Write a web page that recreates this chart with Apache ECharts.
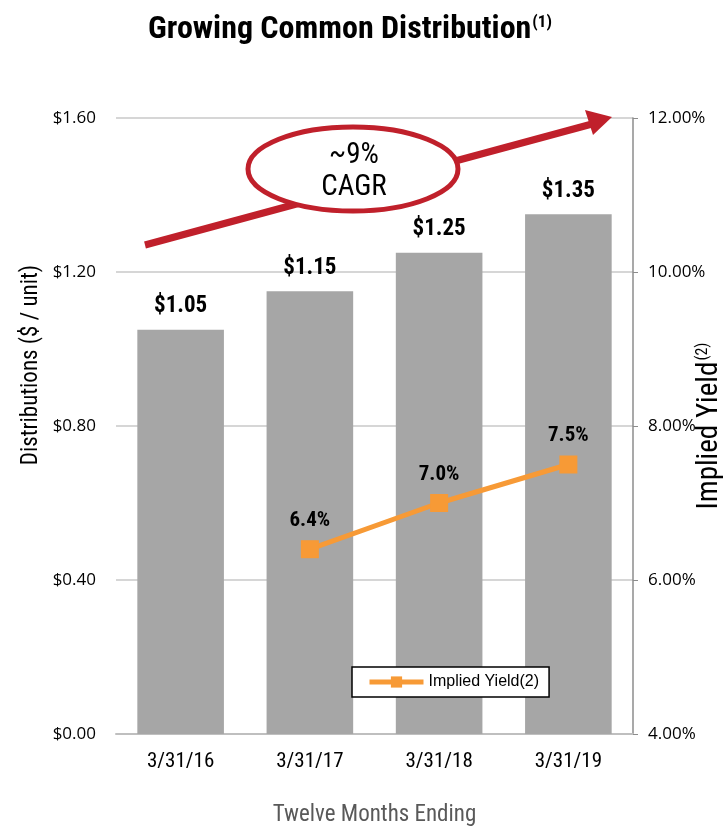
<!DOCTYPE html>
<html>
<head>
<meta charset="utf-8">
<script src="https://cdn.jsdelivr.net/npm/echarts@6/dist/echarts.min.js"></script>
<style>
  html, body { margin: 0; padding: 0; background: #fff; }
  #chart { width: 728px; height: 831px; }
</style>
</head>
<body>
<div id="chart"></div>
<script>
const categories = ['3/31/16', '3/31/17', '3/31/18', '3/31/19']
const distributions = [1.05, 1.15, 1.25, 1.35]
const impliedYield = [null, 6.4, 7.0, 7.5]

const narrow = '"Liberation Sans Narrow", "Arial Narrow", "Roboto Condensed", sans-serif'
const plain = '"Open Sans", "DejaVu Sans", sans-serif'
const arial = '"Liberation Sans", Arial, sans-serif'

const chart = echarts.init(document.getElementById('chart'))

const option = {
  animation: false,
  backgroundColor: '#fff',
  title: {
    text: 'Growing Common Distribution{sup|(1)}',
    left: 345,
    top: 9,
    textAlign: 'center',
    textStyle: {
      fontFamily: narrow,
      fontSize: 32,
      fontWeight: 'bold',
      color: '#000',
      rich: {
        sup: { fontFamily: narrow, fontSize: 17, verticalAlign: 'top', padding: [0, 0, 14, 1], color: '#000' }
      }
    }
  },
  legend: {
    data: ['Implied Yield(2)'],
    left: 352,
    top: 667,
    itemWidth: 54,
    itemHeight: 14,
    itemGap: 5,
    padding: [7, 10, 7, 15],
    borderColor: '#000',
    borderWidth: 1.5,
    borderRadius: 0,
    backgroundColor: '#fff',
    lineStyle: { width: 5 },
    textStyle: { fontFamily: arial, fontSize: 16, color: '#000' }
  },
  grid: { left: 116, right: 95, top: 118, bottom: 97, outerBoundsMode: 'none', containLabel: false },
  xAxis: {
    type: 'category',
    data: categories,
    name: 'Twelve Months Ending',
    nameLocation: 'middle',
    nameGap: 70,
    nameMoveOverlap: false,
    nameTextStyle: { fontFamily: narrow, fontSize: 23, color: '#595959' },
    axisLine: { lineStyle: { color: '#bfbfbf', width: 2 } },
    axisTick: { show: false },
    axisLabel: { fontFamily: narrow, fontSize: 21, color: '#000', margin: 17 }
  },
  yAxis: [
    {
      type: 'value',
      min: 0,
      max: 1.6,
      interval: 0.4,
      name: 'Distributions ($ / unit)',
      nameLocation: 'middle',
      nameGap: 73,
      nameRotate: 90,
      nameMoveOverlap: false,
      nameTextStyle: { fontFamily: narrow, fontSize: 23, color: '#000', padding: [0, 0, 0, 122] },
      axisLine: { show: false },
      axisTick: { show: false },
      axisLabel: {
        fontFamily: plain, fontSize: 17, color: '#000', margin: 20,
        formatter: v => '$' + v.toFixed(2)
      },
      splitLine: { lineStyle: { color: '#c8c8c8', width: 1.5 } }
    },
    {
      type: 'value',
      min: 4,
      max: 12,
      interval: 2,
      position: 'right',
      name: 'Implied Yield{sup|(2)}',
      nameLocation: 'middle',
      nameGap: 62,
      nameRotate: 90,
      nameMoveOverlap: false,
      nameTextStyle: {
        fontFamily: narrow, fontSize: 29, color: '#000',
        rich: { sup: { fontFamily: narrow, fontSize: 16, verticalAlign: 'top', padding: [0, 0, 14, 1], color: '#000' } }
      },
      axisLine: { show: true, lineStyle: { color: '#8c8c8c', width: 1.5 } },
      axisTick: { show: true, length: 5, lineStyle: { color: '#8c8c8c' } },
      axisLabel: {
        fontFamily: plain, fontSize: 17, color: '#000', margin: 15,
        formatter: v => v.toFixed(2) + '%'
      },
      splitLine: { show: false }
    }
  ],
  series: [
    {
      name: 'Distributions',
      type: 'bar',
      data: distributions,
      barWidth: '67%',
      itemStyle: { color: '#a6a6a6' },
      label: {
        show: true,
        position: 'top',
        distance: 12,
        fontFamily: narrow,
        fontSize: 23,
        fontWeight: 'bold',
        color: '#000',
        formatter: p => '$' + p.value.toFixed(2)
      }
    },
    {
      name: 'Implied Yield(2)',
      type: 'line',
      yAxisIndex: 1,
      data: impliedYield,
      symbol: 'rect',
      symbolSize: 18,
      lineStyle: { color: '#f79a36', width: 5 },
      itemStyle: { color: '#f79a36' },
      label: {
        show: true,
        position: 'top',
        distance: 9,
        fontFamily: narrow,
        fontSize: 21,
        fontWeight: 'bold',
        color: '#000',
        formatter: p => p.value.toFixed(1) + '%'
      }
    }
  ],
  graphic: [
    // CAGR arrow
    {
      type: 'line',
      shape: { x1: 145, y1: 245, x2: 592, y2: 124 },
      style: { stroke: '#c0202b', lineWidth: 7 },
      z: 100
    },
    {
      type: 'polygon',
      shape: { points: [[612, 117], [585, 110], [593, 135]] },
      style: { fill: '#c0202b' },
      z: 100
    },
    {
      type: 'ellipse',
      shape: { cx: 353, cy: 169, rx: 105, ry: 42 },
      style: { fill: '#fff', stroke: '#c0202b', lineWidth: 5 },
      z: 101
    },
    {
      type: 'text',
      x: 354,
      y: 172,
      style: {
        text: '~9%\nCAGR',
        align: 'center',
        verticalAlign: 'middle',
        fontFamily: narrow,
        fontSize: 29,
        lineHeight: 32,
        fill: '#000'
      },
      z: 102
    }
  ]
}

chart.setOption(option)
</script>
</body>
</html>
